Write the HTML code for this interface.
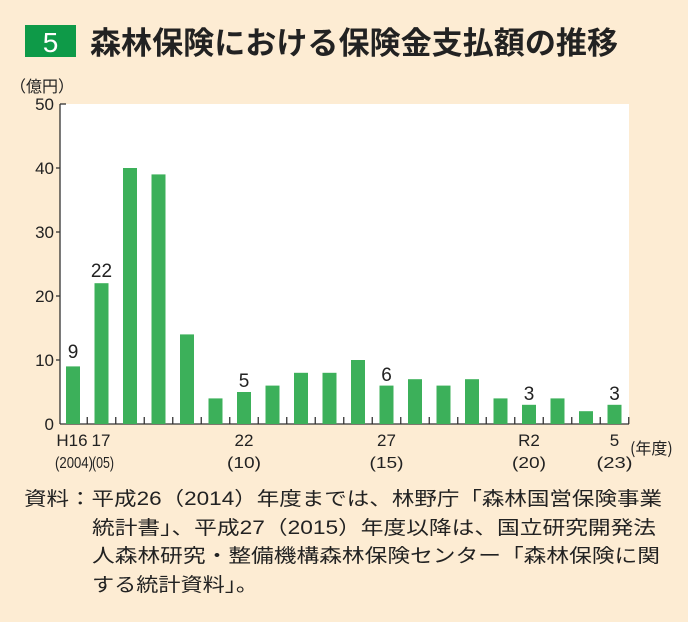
<!DOCTYPE html>
<html><head><meta charset="utf-8"><style>
body{margin:0;background:#fdecd3;}
svg{display:block;font-family:"Liberation Sans","Noto Sans CJK JP",sans-serif;}
</style></head><body>
<svg width="688" height="622" viewBox="0 0 688 622" xmlns="http://www.w3.org/2000/svg">
<rect width="688" height="622" fill="#fdecd3"/>
<rect x="25" y="25" width="51" height="32" fill="#0e9a48"/>
<text x="50.5" y="52" font-size="28" fill="#fff" text-anchor="middle">5</text>
<text x="90" y="54" font-size="31" font-weight="bold" fill="#222" font-family="'Noto Sans CJK JP',sans-serif" textLength="528" lengthAdjust="spacingAndGlyphs">森林保険における保険金支払額の推移</text>
<text x="10" y="92" font-size="16" fill="#222" font-family="'Noto Sans CJK JP',sans-serif">（億円）</text>
<rect x="60" y="104" width="569" height="320" fill="#fff"/>
<g stroke="#333" stroke-width="1.3" fill="none">
<line x1="60" y1="104" x2="60" y2="424"/>
<line x1="60" y1="424" x2="629" y2="424"/>
<line x1="60" y1="104" x2="66" y2="104"/>
<line x1="56" y1="168" x2="60" y2="168"/>
<line x1="56" y1="232" x2="60" y2="232"/>
<line x1="56" y1="296" x2="60" y2="296"/>
<line x1="56" y1="360" x2="60" y2="360"/>
</g>
<g font-size="17" fill="#222" text-anchor="end">
<text x="54" y="110">50</text><text x="54" y="174">40</text><text x="54" y="238">30</text><text x="54" y="302">20</text><text x="54" y="366">10</text><text x="54" y="430">0</text>
</g>
<g id="bars" fill="#3cb05a"></g>
<g id="ticks" stroke="#333" stroke-width="1.3"></g>
<g font-size="19" fill="#222" text-anchor="middle">
<text x="73" y="358">9</text><text x="101.5" y="277">22</text><text x="244" y="387">5</text><text x="386.5" y="381">6</text><text x="529" y="400">3</text><text x="614.5" y="400">3</text>
</g>
<g font-size="17" fill="#222" text-anchor="middle">
<text x="72" y="446">H16</text><text x="101" y="446">17</text>
<text x="244" y="446">22</text><text x="386.5" y="446">27</text><text x="529" y="446">R2</text><text x="614.5" y="446">5</text>
</g>
<g font-size="16" fill="#222" text-anchor="middle">
<text x="74" y="468" textLength="38" lengthAdjust="spacingAndGlyphs">(2004)</text><text x="103" y="468" textLength="22" lengthAdjust="spacingAndGlyphs">(05)</text>
<text x="244" y="468" textLength="34" lengthAdjust="spacingAndGlyphs">(10)</text><text x="386.5" y="468" textLength="34" lengthAdjust="spacingAndGlyphs">(15)</text><text x="529" y="468" textLength="34" lengthAdjust="spacingAndGlyphs">(20)</text><text x="614.5" y="468" textLength="36" lengthAdjust="spacingAndGlyphs">(23)</text>
</g>
<text x="630" y="454" font-size="16" fill="#222" font-family="'Noto Sans CJK JP',sans-serif">(年度)</text>
<g font-size="19" fill="#222" font-family="'Liberation Sans','Noto Sans CJK JP',sans-serif" lengthAdjust="spacingAndGlyphs">
<text x="24" y="505" textLength="638" lengthAdjust="spacingAndGlyphs">資料：平成26（2014）年度までは、林野庁「森林国営保険事業</text>
<text x="92" y="534" textLength="564" lengthAdjust="spacingAndGlyphs">統計書」、平成27（2015）年度以降は、国立研究開発法</text>
<text x="92" y="562" textLength="568" lengthAdjust="spacingAndGlyphs">人森林研究・整備機構森林保険センター「森林保険に関</text>
<text x="92" y="591" textLength="166" lengthAdjust="spacingAndGlyphs">する統計資料」。</text>
</g>
</svg>
<script>
var v=[9,22,40,39,14,4,5,6,8,8,10,6,7,6,7,4,3,4,2,3];
var b=document.getElementById('bars'),t=document.getElementById('ticks'),ns='http://www.w3.org/2000/svg';
v.forEach(function(d,i){var x=66+i*28.5,h=d*6.4;var r=document.createElementNS(ns,'rect');r.setAttribute('x',x);r.setAttribute('y',424-h);r.setAttribute('width',14);r.setAttribute('height',h);b.appendChild(r);
var l=document.createElementNS(ns,'line');var tx=x+21.25;l.setAttribute('x1',tx);l.setAttribute('x2',tx);l.setAttribute('y1',417);l.setAttribute('y2',424);t.appendChild(l);});
</script>
</body></html>
